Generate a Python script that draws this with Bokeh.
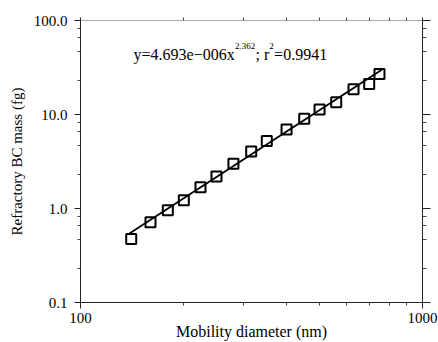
from bokeh.plotting import figure
from bokeh.models import (LogAxis, FixedTicker, PrintfTickFormatter, Range1d,
                          ColumnDataSource, Label)
from bokeh.embed import file_html
from bokeh.resources import INLINE

# ---- data ----
diameter_nm = [140.7, 160.2, 180.0, 200.5, 224.3, 249.8, 280.0, 315.6,
               350.5, 400.4, 451.0, 500.0, 559.4, 628.5, 698.5, 748.5]
rbc_mass_fg = [0.474, 0.712, 0.960, 1.224, 1.68, 2.196, 2.99, 4.03,
               5.23, 6.94, 9.0, 11.28, 13.51, 18.53, 21.08, 26.9]
fit_a = 4.693e-6
fit_b = 2.362
fit_r2 = 0.9941
fit_x = [139.0, 768.0]
fit_y = [fit_a * x ** fit_b for x in fit_x]

x_major = [100, 1000]
x_minor = [200, 300, 400, 500, 600, 700, 800, 900]
y_major = [0.1, 1.0, 10.0, 100.0]
y_minor_mult = [2.3, 4.7, 6.6, 8.2]
y_minor = [m * d for d in [0.1, 1.0, 10.0] for m in y_minor_mult]

FONT = "Liberation Serif"

p = figure(width=438, height=342, x_axis_type="log", y_axis_type="log",
           x_range=Range1d(100, 1000), y_range=Range1d(0.1, 100),
           output_backend="svg", toolbar_location=None,
           min_border_left=80, min_border_right=16, min_border_top=20,
           min_border_bottom=38)
p.outline_line_color = None
p.xgrid.visible = False
p.ygrid.visible = False
p.background_fill_color = "white"
p.border_fill_color = "white"

xt = FixedTicker(ticks=x_major, minor_ticks=x_minor)
yt = FixedTicker(ticks=y_major, minor_ticks=y_minor)

def style(ax, major_out, minor_out, line_color="#222222"):
    ax.axis_line_color = line_color
    ax.axis_line_width = 1
    ax.major_tick_line_color = "#222222"
    ax.minor_tick_line_color = "#444444"
    ax.major_tick_out = major_out
    ax.major_tick_in = 0
    ax.minor_tick_out = minor_out
    ax.minor_tick_in = 0
    ax.major_label_text_font = FONT
    ax.major_label_text_font_size = "15px"
    ax.major_label_text_color = "black"
    ax.axis_label_text_font = FONT
    ax.axis_label_text_font_style = "normal"
    ax.axis_label_text_color = "black"

xa = p.xaxis[0]
xa.ticker = xt
xa.formatter = PrintfTickFormatter(format="%d")
style(xa, 6, 3)
xa.major_label_standoff = 4
xa.axis_label = "Mobility diameter (nm)"
xa.axis_label_text_font_size = "16px"
xa.axis_label_standoff = -3

ya = p.yaxis[0]
ya.ticker = yt
ya.formatter = PrintfTickFormatter(format="%.1f")
style(ya, 6, 3)
ya.major_label_standoff = 7
ya.axis_label = "Refractory BC mass (fg)"
ya.axis_label_text_font_size = "15px"
ya.axis_label_standoff = 6

ra = LogAxis(ticker=FixedTicker(ticks=y_major, minor_ticks=y_minor))
style(ra, 8, 4)
ra.major_label_text_font_size = "1px"
ra.major_label_text_alpha = 0
ra.major_label_standoff = 0
p.add_layout(ra, "right")

ta = LogAxis(ticker=FixedTicker(ticks=x_major, minor_ticks=x_minor))
style(ta, 3, 3, line_color="#aaaaaa")
ta.major_label_text_font_size = "1px"
ta.major_label_text_alpha = 0
ta.major_label_standoff = 0
p.add_layout(ta, "above")

# fit line
p.line(fit_x, fit_y, line_color="black", line_width=1.8)

# data points
src = ColumnDataSource(dict(x=diameter_nm, y=rbc_mass_fg))
p.scatter("x", "y", source=src, marker="square", size=10,
          fill_color=None, line_color="black", line_width=2)

# equation text: normal and superscript pieces laid out one after another
pieces = [
    ("y=4.693e\u2212006x", 0.0, 0, "16px"),
    ("%.3f" % fit_b, 101.5, 8, "9px"),
    ("; r", 122.0, 0, "16px"),
    ("2", 135.8, 8, "9px"),
    ("=%.4f" % fit_r2, 140.6, 0, "16px"),
]
for txt, dx, dy, fs in pieces:
    p.add_layout(Label(x=142.9, y=44.0, x_offset=dx, y_offset=dy, text=txt,
                       text_font=FONT, text_font_size=fs,
                       text_color="black", text_align="left",
                       text_baseline="alphabetic"))

open("out.html", "w").write(file_html(p, INLINE))
